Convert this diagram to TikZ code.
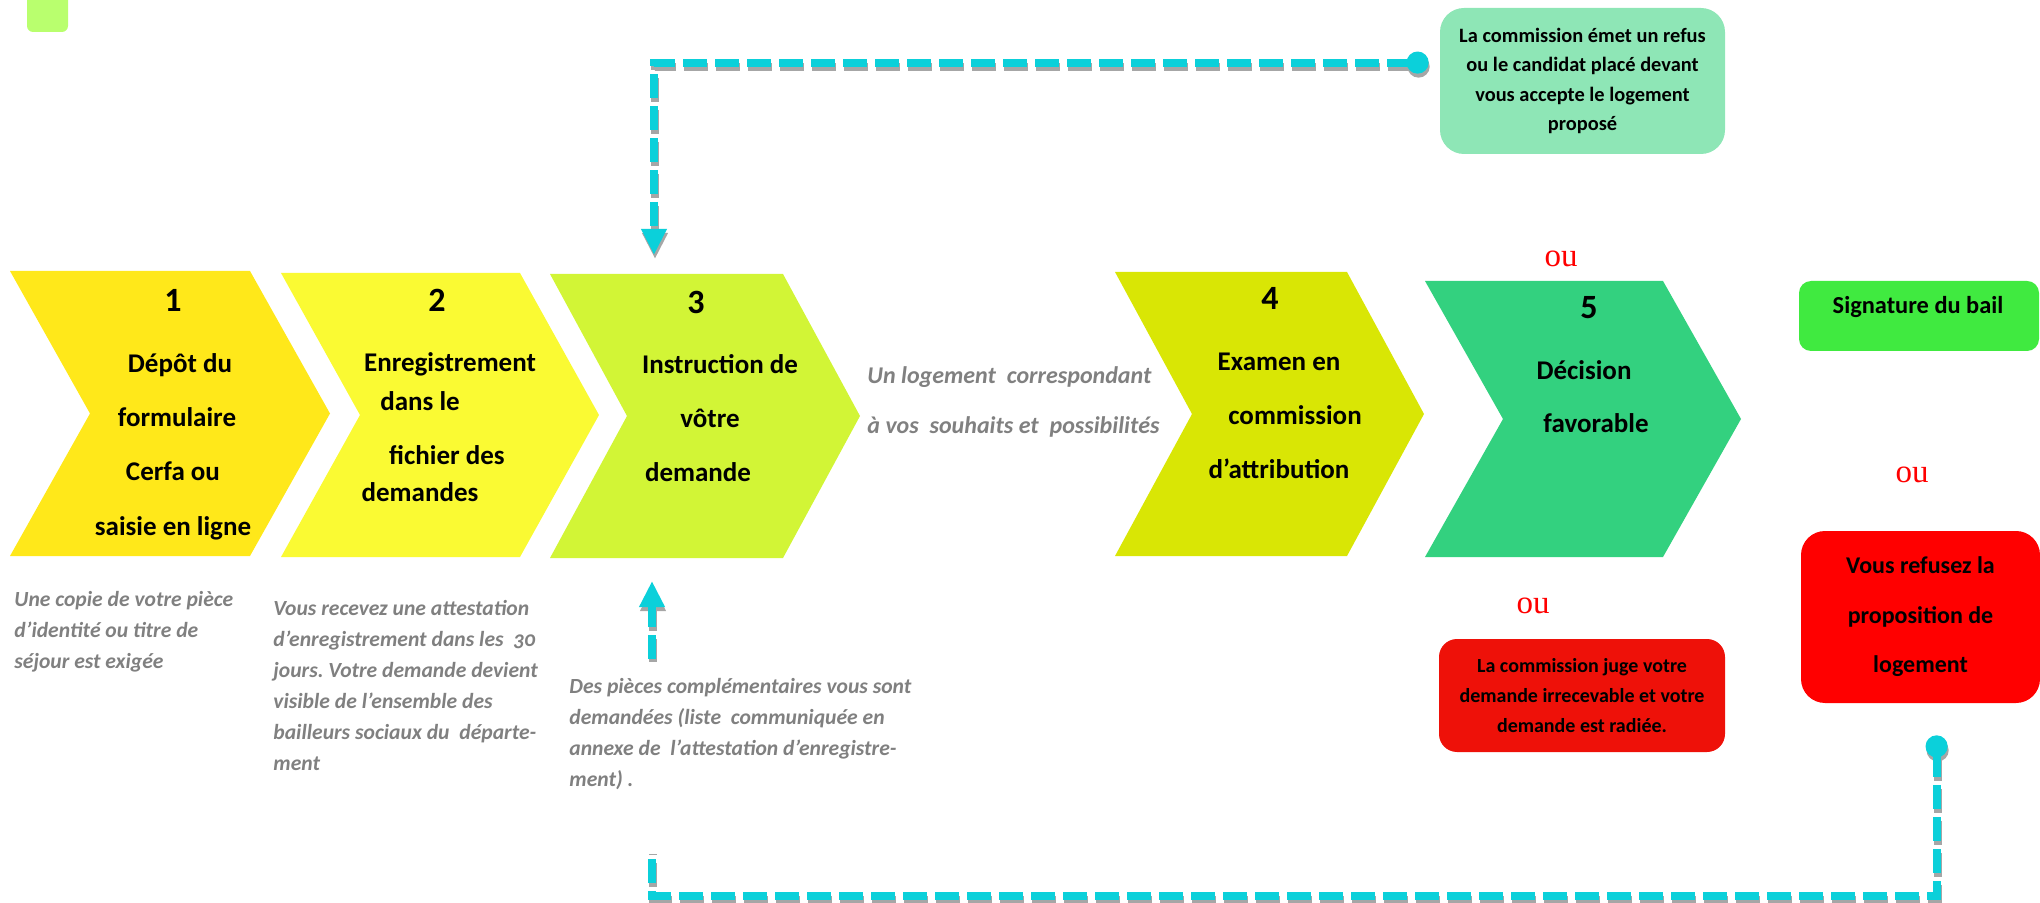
\documentclass[tikz,border=0pt]{standalone}
\usepackage{fontspec}
\setmainfont{Carlito}
\newfontfamily\oufont{Liberation Serif}
\usetikzlibrary{arrows.meta}
\frenchspacing
\definecolor{chA}{HTML}{FFE81A}
\definecolor{chB}{HTML}{FAFA33}
\definecolor{chC}{HTML}{D2F536}
\definecolor{chD}{HTML}{D9E605}
\definecolor{chE}{HTML}{33D17F}
\definecolor{boxmint}{HTML}{8EE6B6}
\definecolor{boxgreen}{HTML}{40EA40}
\definecolor{boxred}{HTML}{FF0000}
\definecolor{boxredb}{HTML}{EE1109}
\definecolor{sqgreen}{HTML}{B9FF6E}
\definecolor{conncyan}{HTML}{0BD0DA}
\definecolor{connshade}{HTML}{A6A6A6}
\definecolor{notegray}{HTML}{808080}
\newcommand\chev[7]{%
  \node[inner sep=0pt, outer sep=0pt, minimum width={(#4+#7-#3)*0.5pt}, minimum height={(#6-#5)*0.5pt}] (#1) at ({(#3+#4+#7)/2},{(#5+#6)/2}) {};
  \fill[#2] (#3,#5) -- (#4,#5) -- ({#4+#7},{(#5+#6)/2}) -- (#4,#6) -- (#3,#6) -- ({#3+#7},{(#5+#6)/2}) -- cycle;
}
\begin{document}
\begin{tikzpicture}[x=0.5pt, y=-0.5pt,
  numtxt/.style={font=\bfseries\fontsize{17}{20}\selectfont, inner sep=0pt, text height=11pt, text depth=0pt},
  chevtxt/.style={font=\bfseries\fontsize{13.5}{16}\selectfont, inner sep=0pt, text height=9.5pt, text depth=2.7pt, yshift=-1.5pt},
  notetxt/.style={font=\bfseries\itshape\fontsize{10.8}{15.5}\selectfont, text=notegray, inner sep=0pt, align=left, anchor=north west},
  boxnode/.style={inner sep=0pt, align=center, font=\bfseries\fontsize{10}{14.8}\selectfont},
  outxt/.style={font=\oufont\fontsize{16.5}{18}\selectfont, text=red, inner sep=0pt},
  conn/.style={line width=4pt, dash pattern=on 12pt off 4pt, {Circle[length=11pt]}-{Triangle[length=13pt,width=12pt]}},
  connfront/.style={conn, draw=conncyan},
  connback/.style={conn, draw=connshade, transform canvas={shift={(0.5pt,-2pt)}}},
]
\useasboundingbox (0,0) rectangle (2040,903);

% small square at top left
\begin{scope}
  \clip (0,0) rectangle (2040,903);
  \fill[sqgreen, rounded corners=3pt] (27,-20) rectangle (68,32);
\end{scope}

% chevrons
\chev{ch1}{chA}{10}{250}{271}{556}{80}
\chev{ch2}{chB}{281}{520}{273}{557}{79}
\chev{ch3}{chC}{550}{783}{274}{558}{77}
\chev{ch4}{chD}{1115}{1347}{272}{556}{77}
\chev{ch5}{chE}{1425}{1663}{281}{557}{78}

% boxes
\node[boxnode, font=\bfseries\fontsize{10.2}{14.8}\selectfont, fill=boxmint, rounded corners=12pt, minimum width=142.5pt, minimum height=73pt] (gbox) at (1582.5,81)
  {La commission émet un refus\\ou le candidat placé devant\\vous accepte le logement\\proposé};
\node[boxnode, fill=boxredb, rounded corners=9pt, minimum width=143pt, minimum height=56.5pt] (rbox) at (1582,695.5)
  {La commission juge votre\\demande irrecevable et votre\\demande est radiée.};
\node[inner sep=0pt, fill=boxgreen, rounded corners=6pt, minimum width=120pt, minimum height=35pt] (sbox) at (1919,316) {};
\node[boxnode, font=\bfseries\fontsize{12.2}{14}\selectfont] (stxt) at (1918,307) {Signature du bail};
\node[boxnode, fill=boxred, rounded corners=12pt, minimum width=119.5pt, minimum height=86pt, font=\bfseries\fontsize{12}{24.75}\selectfont] (refuse) at (1920.5,617)
  {Vous refusez la\\proposition de\\logement};

% connectors
\coordinate (c1) at ([xshift=-5.5pt,yshift=-27.5pt]gbox.north west);
\coordinate (a3top) at ([xshift=52pt,yshift=9.5pt]ch3.north west);
\draw[connback] (c1) -| (a3top);
\draw[connfront] (c1) -| (a3top);

\coordinate (c2) at ([xshift=68pt,yshift=-16pt]refuse.south west);
\coordinate (a3bot) at ([xshift=51pt,yshift=-11.5pt]ch3.south west);
\coordinate (bl) at (652,896);
\draw[connback] (c2) |- (bl) -- (a3bot);
\draw[connfront] (c2) |- (bl) -- (a3bot);

% white text box hiding the connector
\node[fill=white, inner sep=0pt, minimum width=180pt, minimum height=96pt, anchor=north west] (note3bg) at (580,662) {};

% chevron texts
\node[numtxt] (n1) at (173,301) {1};
\node[chevtxt] (t1a) at (180,363) {Dépôt du};
\node[chevtxt] (t1b) at (177,417) {formulaire};
\node[chevtxt] (t1c) at (173,471) {Cerfa ou};
\node[chevtxt] (t1d) at (173,526) {saisie en ligne};

\node[numtxt] (n2) at (437,301) {2};
\node[chevtxt] (t2a) at (450,362) {Enregistrement};
\node[chevtxt] (t2b) at (420,401) {dans le};
\node[chevtxt] (t2c) at (447,455) {fichier des};
\node[chevtxt] (t2d) at (420,492) {demandes};

\node[numtxt] (n3) at (696,303) {3};
\node[chevtxt] (t3a) at (720,364) {Instruction de};
\node[chevtxt] (t3b) at (710,418) {vôtre};
\node[chevtxt] (t3c) at (698,472) {demande};

\node[numtxt] (n4) at (1270,299) {4};
\node[chevtxt] (t4a) at (1279,361) {Examen en};
\node[chevtxt] (t4b) at (1295,415) {commission};
\node[chevtxt] (t4c) at (1279,469) {d’attribution};

\node[numtxt] (n5) at (1589,308) {5};
\node[chevtxt] (t5a) at (1584,370) {Décision};
\node[chevtxt] (t5b) at (1596,423) {favorable};

% "ou"
\node[outxt] (ou1) at (1561,259) {ou};
\node[outxt] (ou2) at (1533,606) {ou};
\node[outxt] (ou3) at (1912,475) {ou};

% grey texts
\node[notetxt, font=\bfseries\itshape\fontsize{12}{25}\selectfont] (mid) at (867,366)
  {Un logement~ correspondant\\à vos~ souhaits et~ possibilités};
\node[notetxt] (note1) at (14,591)
  {Une copie de votre pièce\\d’identité ou titre de\\séjour est exigée};
\node[notetxt] (note2) at (273,600)
  {Vous recevez une attestation\\d’enregistrement dans les~ {\addfontfeature{Numbers=OldStyle}30}\\jours. Votre demande devient\\visible de l’ensemble des\\bailleurs sociaux du~ départe-\\ment};
\node[notetxt] (note3) at (569,678)
  {Des pièces complémentaires vous sont\\demandées (liste~ communiquée en\\annexe de~ l’attestation d’enregistre-\\ment) .};
\end{tikzpicture}
\end{document}
